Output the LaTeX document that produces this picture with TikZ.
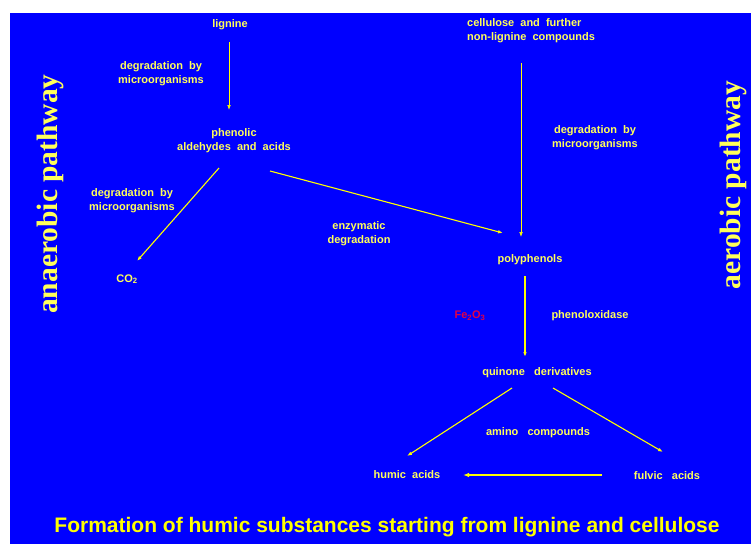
\documentclass[tikz,border=0pt]{standalone}
\usepackage{fontspec}
\setmainfont{Liberation Sans}
\newfontfamily\pathfont{Liberation Serif}
\usetikzlibrary{arrows.meta}
\definecolor{bg}{RGB}{0,0,255}
\definecolor{txt}{RGB}{255,255,90}
\definecolor{ln}{RGB}{255,255,0}
\definecolor{fered}{RGB}{225,0,70}
\begin{document}
\begin{tikzpicture}[x=1pt,y=-1pt,
  lbl/.style={text=txt,font=\fontsize{11}{14}\selectfont\bfseries,align=center,inner sep=1pt},
  side/.style={text=txt,font=\fontsize{29.5}{29.5}\selectfont\pathfont\bfseries,rotate=90,inner sep=0pt},
  arr/.style={draw=ln,line width=1.1pt,-{Latex[length=5pt,width=3.6pt]}},
  thinarr/.style={arr,line width=0.6pt},
  thickarr/.style={arr,line width=1.7pt,-{Latex[length=6pt,width=4.5pt]}}]
\useasboundingbox (0,0) rectangle (751,544);
\fill[white] (0,0) rectangle (751,544);
\fill[bg] (10,13) rectangle (751,544);

\node[lbl] (lignine) at (230,25) {lignine};
\node[lbl,anchor=west,align=left] (cell) at (466,30.5) {cellulose\ \ and\ \ further\\non-lignine\ \ compounds};
\node[lbl] (deg1) at (161,73.5) {degradation\ \ by\\microorganisms};
\node[lbl] (phen) at (234,140.5) {phenolic\\aldehydes\ \ and\ \ acids};
\node[lbl] (deg2) at (132,200.5) {degradation\ \ by\\microorganisms};
\node[lbl] (co2) at (127,279) {CO\textsubscript{2}};
\node[lbl] (enz) at (359,234) {enzymatic\\degradation};
\node[lbl] (deg3) at (595,137.5) {degradation\ \ by\\microorganisms};
\node[lbl] (poly) at (530,260) {polyphenols};
\node[lbl,text=fered] (fe) at (470,316) {Fe\textsubscript{2}O\textsubscript{3}};
\node[lbl] (phox) at (590,316) {phenoloxidase};
\node[lbl] (quin) at (537,373) {quinone\ \ \ derivatives};
\node[lbl] (amino) at (538,433) {amino\ \ \ compounds};
\node[lbl] (humic) at (407,475) {humic\ \ acids};
\node[lbl] (fulvic) at (667,476) {fulvic\ \ \ acids};
\node[text=ln,font=\fontsize{21}{21}\selectfont\bfseries,inner sep=0pt] (title) at (387,527) {Formation of humic substances starting from lignine and cellulose};
\node[side] (anaer) at (50,194) {anaerobic pathway};
\node[side] (aer) at (733,185) {aerobic pathway};

\draw[thinarr] ([shift={(-1,17)}]lignine.center) -- ([shift={(-5,-30.5)}]phen.center);
\draw[thinarr] ([shift={(55,32.5)}]cell.west) -- ([shift={(-9,-23)}]poly.center);
\draw[arr] ([shift={(-15,27.5)}]phen.center) -- ([shift={(10,-18)}]co2.center);
\draw[arr] ([shift={(36,30.5)}]phen.center) -- ([shift={(-27,-27)}]poly.center);
\draw[arr,line width=1.6pt] ([shift={(-5,16)}]poly.center) -- ([shift={(-12,-16)}]quin.center);
\draw[arr] ([shift={(-25,15)}]quin.center) -- ([shift={(0,-19)}]humic.center);
\draw[arr] ([shift={(16,15)}]quin.center) -- ([shift={(-4,-24)}]fulvic.center);
\draw[thickarr] ([shift={(-65,-1)}]fulvic.center) -- ([shift={(56,0)}]humic.center);
\end{tikzpicture}
\end{document}
